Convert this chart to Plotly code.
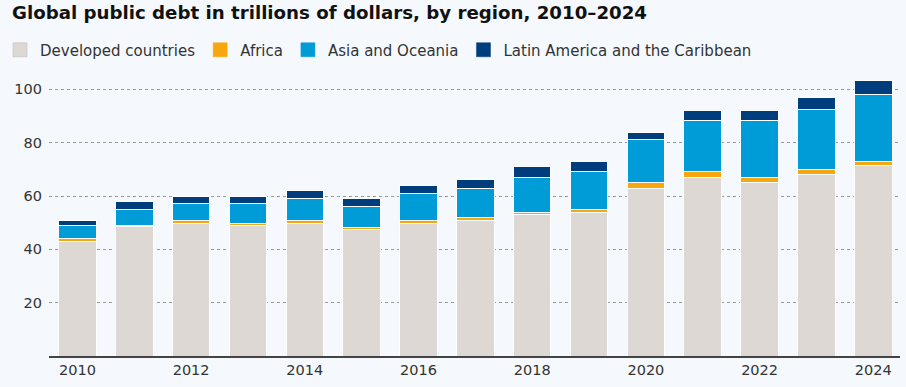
import plotly.graph_objects as go

years = list(range(2010, 2025))
developed = [43.1, 48.4, 49.8, 48.9, 49.8, 47.3, 49.8, 50.9, 52.9, 53.9, 62.9, 67.0, 64.9, 68.2, 71.3]
africa = [1.0, 0.5, 1.1, 0.9, 1.1, 1.0, 1.1, 1.1, 1.0, 1.1, 2.0, 2.3, 2.1, 1.8, 1.7]
asia_oceania = [4.8, 6.2, 6.3, 7.4, 8.3, 7.9, 10.0, 10.9, 13.1, 14.2, 16.4, 18.9, 21.2, 22.3, 25.1]
latam = [1.9, 2.9, 2.6, 2.6, 2.7, 3.0, 3.0, 3.3, 4.2, 3.8, 2.6, 4.0, 4.0, 4.6, 5.1]

series = [
    ("Developed countries", developed, "#DDD8D4"),
    ("Africa", africa, "#F7A70D"),
    ("Asia and Oceania", asia_oceania, "#009CD8"),
    ("Latin America and the Caribbean", latam, "#003D7C"),
]
y_ticks = [20, 40, 60, 80, 100]
x_ticks = [2010, 2012, 2014, 2016, 2018, 2020, 2022, 2024]

fig = go.Figure()
for i, (name, vals, col) in enumerate(series):
    fig.add_trace(go.Bar(
        x=years, y=vals, name=name, showlegend=False, legendgroup=name,
        marker=dict(color=col, line=dict(color="white", width=1)),
    ))
for name, vals, col in series:
    # legend swatch entries
    fig.add_trace(go.Scatter(
        x=[None], y=[None], mode="markers", name=name, legendgroup=name,
        marker=dict(symbol="square", size=14, color=col,
                    line=dict(color="#BBBBBB" if col == "#DDD8D4" else col, width=0.5)),
    ))

bg = "#F5F9FD"
W, H = 906, 387
fig.update_layout(
    barmode="stack",
    bargap=0.34,
    width=W, height=H,
    paper_bgcolor=bg, plot_bgcolor=bg,
    margin=dict(l=49, r=6, t=76, b=31, autoexpand=False),
    font=dict(family="DejaVu Sans, Liberation Sans, sans-serif", color="#333333"),
    title=dict(
        text="<b>Global public debt in trillions of dollars, by region, 2010–2024</b>",
        x=12 / W, xanchor="left", xref="container",
        y=1 - 13 / H, yanchor="middle", yref="container",
        font=dict(size=18.2, color="#111111"),
        automargin=False,
    ),
    legend=dict(
        orientation="h", x=-3 / W, xanchor="left", xref="container",
        y=1 - 50 / H, yanchor="middle", yref="container",
        font=dict(size=15, color="#333333"),
        bgcolor="rgba(0,0,0,0)", traceorder="normal",
        itemwidth=30, itemsizing="trace",
    ),
    xaxis=dict(
        range=[2009.5, 2024.47],
        tickmode="array", tickvals=x_ticks, ticktext=[str(t) for t in x_ticks],
        showgrid=False, showline=True, linecolor="#444444", linewidth=1.5,
        ticks="", tickfont=dict(size=14.5, color="#333333"),
        zeroline=False, automargin=False,
    ),
    yaxis=dict(
        range=[0, 105],
        tickmode="array", tickvals=y_ticks, ticktext=[str(t) for t in y_ticks],
        showgrid=True, gridcolor="#999999", griddash="dot", gridwidth=1,
        zeroline=False, showline=False, ticks="",
        tickfont=dict(size=14.5, color="#333333"),
        ticklabelstandoff=6, automargin=False,
    ),
)

fig.write_html(
    "out.html",
    config={"displayModeBar": False},
    post_script="document.body.style.margin='0';document.body.style.background='%s';" % bg,
)
